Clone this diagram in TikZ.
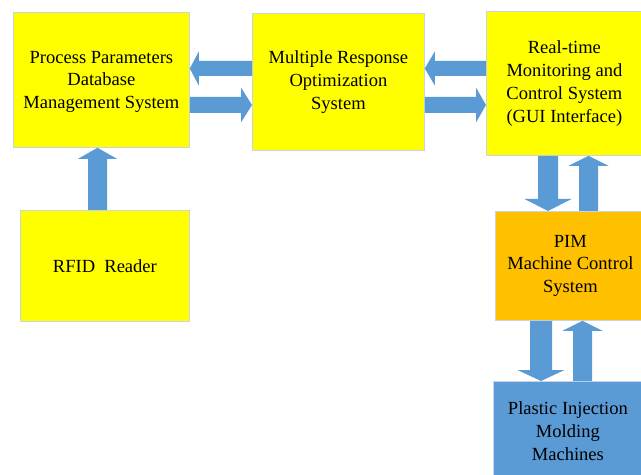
\documentclass[tikz,border=0pt]{standalone}
\usepackage{fontspec}
\setmainfont{Liberation Serif}
\newfontfamily\tnr{Liberation Serif}
\usetikzlibrary{calc}
\definecolor{boxyellow}{HTML}{FFFF00}
\definecolor{boxorange}{HTML}{FFC000}
\definecolor{boxblue}{HTML}{5B9BD5}
\definecolor{arrowblue}{HTML}{5B9BD5}
\definecolor{edgegray}{HTML}{C9D3E3}
\newcommand\blockarrow[5]{%
  \coordinate (bah) at ($(#2)!#5bp!(#1)$);
  \fill[arrowblue] ($(#1)!#3bp!90:(#2)$) -- ($(bah)!#3bp!90:(#2)$) -- ($(bah)!#4bp!90:(#2)$) -- (#2)
    -- ($(bah)!#4bp!-90:(#2)$) -- ($(bah)!#3bp!-90:(#2)$) -- ($(#1)!#3bp!-90:(#2)$) -- cycle;}
\begin{document}
\begin{tikzpicture}[x=1bp,y=-1bp,
  blk/.style={draw=edgegray, line width=0.8bp, inner sep=0pt, align=center,
    font=\tnr\fontsize{18.6}{23}\selectfont, anchor=north west},
  yel/.style={blk, fill=boxyellow},
  org/.style={blk, fill=boxorange},
  blu/.style={blk, fill=boxblue}]
\useasboundingbox (0,0) rectangle (641,475);
\clip (0,0) rectangle (641,475);
\fill[white] (0,0) rectangle (641,475);

\node[yel, minimum width=176bp, minimum height=135bp, text depth=-3bp] (db) at (13,12)
  {Process Parameters\\Database\\Management System};
\node[yel, minimum width=172bp, minimum height=137bp] (mro) at (252,13)
  {Multiple Response\\Optimization\\System};
\node[yel, minimum width=166bp, minimum height=144bp] (rt) at (486,11)
  {\hspace*{-10bp}Real-time\\\hspace*{-10bp}Monitoring and\\\hspace*{-10bp}Control System\\\hspace*{-10bp}(GUI Interface)};
\node[yel, minimum width=169bp, minimum height=111bp] (rfid) at (20,210)
  {RFID\ \ Reader};
\node[org, minimum width=150bp, minimum height=109bp] (pim) at (495,211)
  {PIM\\Machine Control\\System};
\node[blu, minimum width=157bp, minimum height=100bp] (pl) at (493,381)
  {\hspace*{-8bp}Plastic Injection\\\hspace*{-8bp}Molding\\\hspace*{-8bp}Machines};

\coordinate (rowA) at (0,68.5);
\coordinate (rowB) at (0,105);
\coordinate (colR) at (97.5,0);
\coordinate (colD1) at (548,0);
\coordinate (colU1) at (588.5,0);
\coordinate (colD2) at (541,0);
\coordinate (colU2) at (582.5,0);

% horizontal arrows
\blockarrow{mro.west |- rowA}{db.east |- rowA}{7.5}{17}{9}
\blockarrow{db.east |- rowB}{mro.west |- rowB}{8}{17.5}{11}
\blockarrow{rt.west |- rowA}{mro.east |- rowA}{7.5}{17}{10}
\blockarrow{mro.east |- rowB}{rt.west |- rowB}{8}{17.5}{10}
% vertical arrows
\blockarrow{colR |- rfid.north}{colR |- db.south}{9.5}{19.5}{11}
\blockarrow{colD1 |- rt.south}{colD1 |- pim.north}{10}{23.5}{12}
\blockarrow{colU1 |- pim.north}{colU1 |- rt.south}{9.5}{20}{10}
\blockarrow{colD2 |- pim.south}{colD2 |- pl.north}{11}{23.5}{11}
\blockarrow{colU2 |- pl.north}{colU2 |- pim.south}{9.5}{20}{10}
\end{tikzpicture}
\end{document}
